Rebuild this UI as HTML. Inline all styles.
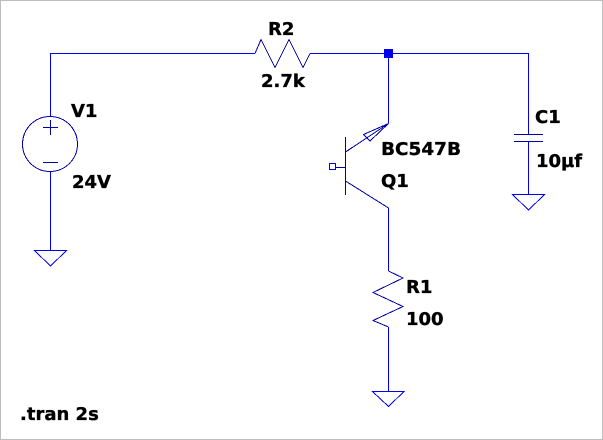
<!DOCTYPE html>
<html>
<head>
<meta charset="utf-8">
<style>
html,body{margin:0;padding:0;background:#fff;width:603px;height:440px;overflow:hidden}
svg{display:block}
text{font-family:"DejaVu Sans","Liberation Sans",sans-serif;font-weight:700;font-size:18px;fill:#000;stroke:#000;stroke-width:.35px}
</style>
</head>
<body>
<svg width="603" height="440" viewBox="0 0 603 440" xmlns="http://www.w3.org/2000/svg">
<rect x="0" y="0" width="603" height="440" fill="#fff"/>
<rect x="0.5" y="0.5" width="602" height="439" fill="none" stroke="#bdbdbd" stroke-width="1"/>
<g fill="none" stroke="#0000f0" stroke-width="1" shape-rendering="crispEdges">
<path d="M50.5 116V53.5H255M310 53.5H528.5V134M388.5 53.5V123M50.5 172V250M528.5 141V194M388.5 208V271M388.5 327V391"/>
</g>
<g fill="none" stroke="#0000a8" stroke-width="1" shape-rendering="crispEdges">
<circle cx="50" cy="144" r="27.5"/>
<path d="M43 127.5H58M50.5 120V135M43 162.5H58"/>
<path d="M514 134.5H543M514 141.5H543"/>
<path d="M345.500 137V195M335 167.500H345"/>
<polyline points="255,53.500 261,39.500 275,67.500 289,39.500 303,67.500 310,53.500"/>
<polyline points="388.500,271 403,278 373,292.500 403,306.500 373,320.500 388.500,327"/>
<path d="M345.500 152L388.500 123.500M345.500 181L388.500 208"/>
<polygon points="388.500,123.500 363.500,134.500 370,141"/>
</g>
<g fill="none" stroke="#0000f0" stroke-width="1" shape-rendering="crispEdges">
<polygon points="34.500,250.500 66.500,250.500 50.500,266"/>
<polygon points="512.500,194.500 544.500,194.500 528.500,210"/>
<polygon points="372.500,391.500 404,391.500 388.500,406.500"/>
<rect x="329.500" y="163.500" width="6" height="6"/>
</g>
<rect x="384" y="49" width="9" height="9" fill="#0000f0"/>
<text x="71" y="117">V1</text>
<text x="72" y="188">24V</text>
<text x="268" y="35">R2</text>
<text x="261" y="87">2.7k</text>
<text x="381" y="155" textLength="80" lengthAdjust="spacingAndGlyphs">BC547B</text>
<text x="381" y="187">Q1</text>
<text x="406" y="293">R1</text>
<text x="406" y="325">100</text>
<text x="535" y="123">C1</text>
<text x="536" y="167">10µf</text>
<text x="20" y="420">.tran 2s</text>
</svg>
</body>
</html>
